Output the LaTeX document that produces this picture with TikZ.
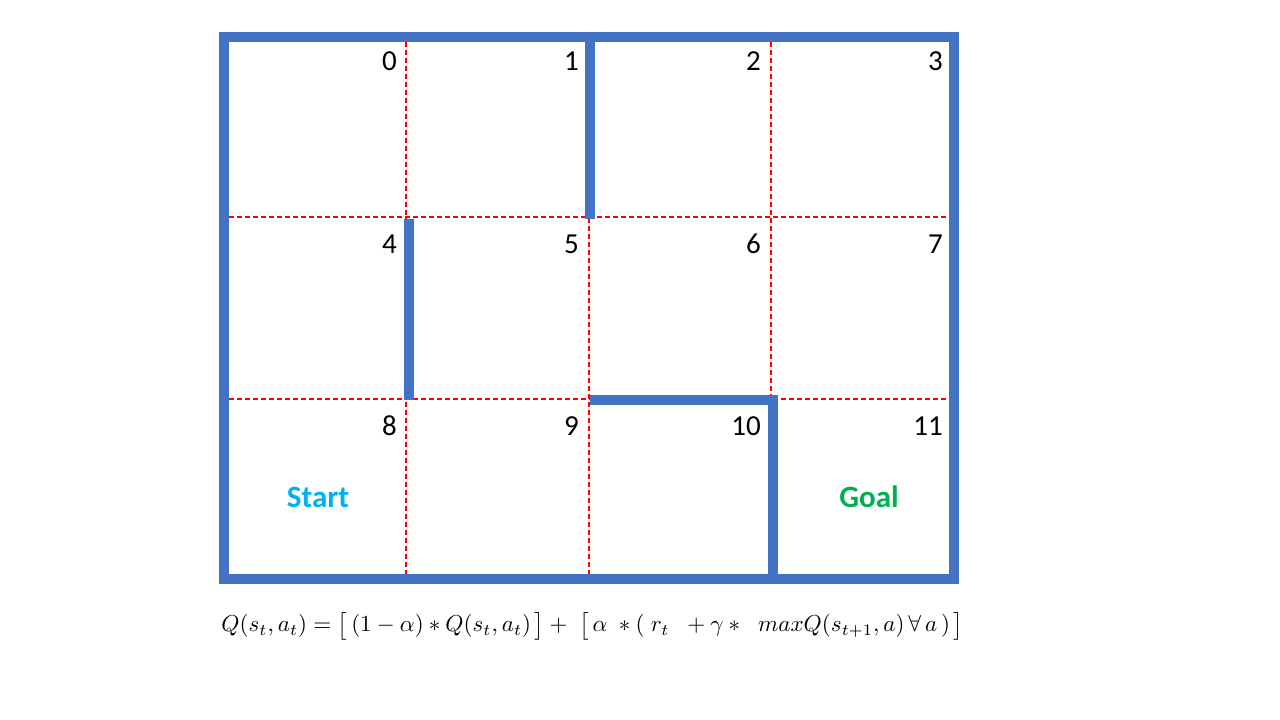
\documentclass[tikz,border=0pt]{standalone}
\usepackage{fontspec}
\setmainfont{Carlito}
\usepackage{amsmath}
\definecolor{wall}{HTML}{4472C4}
\definecolor{startc}{HTML}{00B0F0}
\definecolor{goalc}{HTML}{00B050}
\definecolor{gridred}{HTML}{FF0000}
\begin{document}
\begin{tikzpicture}[x=1pt,y=-1pt,
  wallline/.style={draw=wall,line width=10pt,line join=miter},
  gridline/.style={draw=gridred,line width=1.4pt,dash pattern=on 5pt off 3pt},
  cellnum/.style={anchor=base east,font=\fontsize{29}{29}\selectfont,inner sep=0pt},
  lbl/.style={font=\bfseries\fontsize{31}{31}\selectfont,inner sep=0pt}]
\useasboundingbox (0,0) rectangle (1280,720);
% grid
\foreach \x in {406,589,771} \draw[gridline] (\x,42) -- (\x,575);
\foreach \y in {217,399} \draw[gridline] (229,\y) -- (950,\y);
% walls
\draw[wallline] (224,37) rectangle (954,579);
\draw[wallline] (589.5,37) -- (589.5,219);
\draw[wallline] (408.5,219) -- (408.5,400);
\draw[wallline] (590,399.5) -- (772.5,399.5) -- (772.5,579);
% numbers
\node[cellnum] (n0) at (397,70) {0};
\node[cellnum] (n1) at (579,70) {1};
\node[cellnum] (n2) at (761,70) {2};
\node[cellnum] (n3) at (943,70) {3};
\node[cellnum] (n4) at (397,253) {4};
\node[cellnum] (n5) at (579,253) {5};
\node[cellnum] (n6) at (761,253) {6};
\node[cellnum] (n7) at (943,253) {7};
\node[cellnum] (n8) at (397,435) {8};
\node[cellnum] (n9) at (579,435) {9};
\node[cellnum] (n10) at (761,435) {10};
\node[cellnum] (n11) at (943,435) {11};
\node[lbl,text=startc] (start) at (318,497) {Start};
\node[lbl,text=goalc] (goal) at (869,497) {Goal};
% formula
\node[inner sep=0pt] (formula) at (592.5,626) {\resizebox{742pt}{!}{$Q(s_t,a_t)=\big[\,(1-\alpha)\ast Q(s_t,a_t)\,\big]+\;\big[\,\alpha\;\ast(\;r_t\;\;+\gamma\ast\;\;max Q(s_{t+1},a)\,\forall\,a\,)\,\big]$}};
\end{tikzpicture}
\end{document}
